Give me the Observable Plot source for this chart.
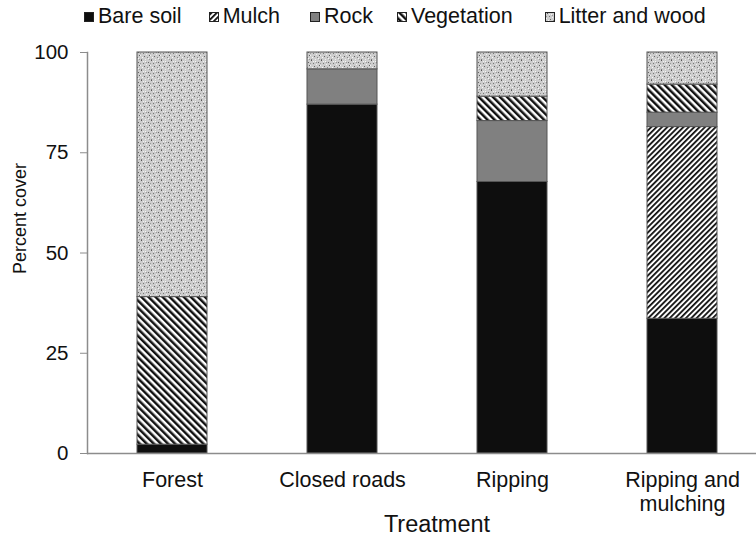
<!DOCTYPE html>
<html><head><meta charset="utf-8">
<script src="https://cdn.jsdelivr.net/npm/d3@7"></script>
<script src="https://cdn.jsdelivr.net/npm/@observablehq/plot@0.6"></script>
<style>
body{margin:0;background:#fff;font-family:"Liberation Sans",Arial,sans-serif;}
#legend{height:27px;padding-top:3px;display:flex;align-items:center;padding-left:84px;font-size:21.5px;line-height:21px;color:#111;}
.item{display:flex;align-items:center;}
.sw{width:8px;height:8px;margin-right:4px;border:1px solid #222;}
</style></head><body>
<svg width="0" height="0" style="position:absolute">
<defs>
<pattern id="pMulch" patternUnits="userSpaceOnUse" width="3.8" height="3.8" patternTransform="rotate(45)">
<rect width="3.8" height="3.8" fill="#fff"/><rect width="1.8" height="3.8" fill="#111"/>
</pattern>
<pattern id="pVeg" patternUnits="userSpaceOnUse" width="5" height="5" patternTransform="rotate(-45)">
<rect width="5" height="5" fill="#fff"/><rect width="2.5" height="5" fill="#111"/>
</pattern>
<pattern id="pLitter" patternUnits="userSpaceOnUse" width="10" height="10">
<rect width="10" height="10" fill="#cdcdcd"/>
<rect x="1" y="0" width="1" height="1" fill="#555"/>
<rect x="5" y="1" width="1" height="1" fill="#f4f4f4"/>
<rect x="8" y="2" width="1" height="1" fill="#666"/>
<rect x="3" y="3" width="1" height="1" fill="#777"/>
<rect x="6" y="4" width="1" height="1" fill="#f0f0f0"/>
<rect x="0" y="5" width="1" height="1" fill="#f2f2f2"/>
<rect x="9" y="5" width="1" height="1" fill="#5f5f5f"/>
<rect x="4" y="6" width="1" height="1" fill="#666"/>
<rect x="2" y="7" width="1" height="1" fill="#f6f6f6"/>
<rect x="7" y="7" width="1" height="1" fill="#888"/>
<rect x="1" y="9" width="1" height="1" fill="#777"/>
<rect x="5" y="9" width="1" height="1" fill="#efefef"/>
<rect x="8" y="8" width="1" height="1" fill="#f3f3f3"/>
<rect x="3" y="1" width="1" height="1" fill="#efefef"/>
<rect x="6" y="2" width="1" height="1" fill="#999"/>
<rect x="0" y="3" width="1" height="1" fill="#999"/>
<rect x="9" y="9" width="1" height="1" fill="#999"/>
</pattern>
</defs></svg>
<div id="legend"></div>
<div id="chart"></div>
<script>
const categories = ["Forest", "Closed roads", "Ripping", "Ripping and mulching"];
const xTickLabels = ["Forest", "Closed roads", "Ripping", "Ripping and\nmulching"];
const series = ["Bare soil", "Mulch", "Rock", "Vegetation", "Litter and wood"];
const bareSoil   = [2.2, 87.0, 67.7, 33.6];
const mulch      = [0, 0, 0, 47.8];
const rock       = [0, 8.8, 15.2, 3.6];
const vegetation = [36.8, 0, 6.1, 7.0];
const litter     = [61.0, 4.2, 11.0, 8.0];
const yTicks = [0, 25, 50, 75, 100];

const fills = ["#0e0e0e", "url(#pMulch)", "#808080", "url(#pVeg)", "url(#pLitter)"];
const legendGaps = [27, 30, 24, 32, 0];
const seriesValues = [bareSoil, mulch, rock, vegetation, litter];

const rows = [];
categories.forEach((c, i) => {
  seriesValues.forEach((arr, k) => {
    if (arr[i] > 0) rows.push({treatment: c, cover: series[k], value: arr[i]});
  });
});

// legend
const leg = document.getElementById("legend");
series.forEach((s, k) => {
  const it = document.createElement("div");
  it.className = "item";
  it.style.marginRight = legendGaps[k] + "px";
  it.innerHTML = `<svg class="sw" width="8" height="8" style="display:block"><rect width="8" height="8" fill="${fills[k]}"/></svg><span>${s}</span>`;
  leg.appendChild(it);
});

const plot = Plot.plot({
  width: 756, height: 512,
  marginTop: 22, marginBottom: 89, marginLeft: 87, marginRight: 0,
  style: {fontFamily: '"Liberation Sans", Arial, sans-serif', fontSize: "20px", color: "#111", background: "#fff"},
  x: {domain: categories, range: [86.5, 766.5], paddingInner: 0.59, paddingOuter: 0.295, label: null},
  y: {domain: [0, 100], label: null},
  color: {domain: series, range: fills},
  marks: [
    Plot.barY(rows, Plot.stackY({x: "treatment", y: "value", fill: "cover", stroke: "#555", strokeWidth: 1})),
    Plot.ruleY([0], {stroke: "#8c8c8c", strokeWidth: 1.5}),
    Plot.frame({anchor: "left", stroke: "#8c8c8c", strokeWidth: 1.5}),
    Plot.axisY({ticks: yTicks, tickSize: 7, tickPadding: 12, stroke: "#8c8c8c", fill: "#111", fontSize: 20.5, label: null}),
    Plot.axisX({tickSize: 0, tickPadding: 16, lineHeight: 1.12, fill: "#111", fontSize: 21.5, label: null,
      tickFormat: d => xTickLabels[categories.indexOf(d)]}),
    Plot.text(["Percent cover"], {text: d => d, frameAnchor: "left", rotate: -90, dx: -67, dy: 21, fontSize: 18, fill: "#111"}),
    Plot.text(["Treatment"], {text: d => d, frameAnchor: "bottom", dx: 15, dy: 78, fontSize: 23.5, fill: "#111"})
  ]
});
document.getElementById("chart").appendChild(plot);
</script>
</body></html>
